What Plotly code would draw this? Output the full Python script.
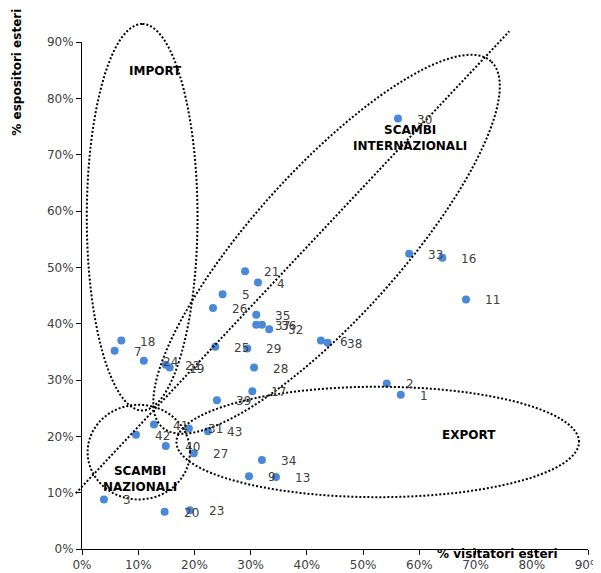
import numpy as np
import plotly.graph_objects as go

# ---- data (percent values) ----
labels = ["1", "2", "3", "4", "5", "6", "7", "9", "11", "13", "16", "17", "18", "19",
          "20", "21", "22", "23", "24", "25", "26", "27", "28", "29", "30", "31", "32",
          "33", "34", "35", "36", "37", "38", "39", "40", "41", "42", "43"]
visitatori_esteri = [56.7, 54.2, 3.9, 31.3, 25.0, 42.5, 5.8, 29.7, 68.3, 34.5, 64.1, 30.3, 7.0, 15.6,
                     14.7, 29.0, 14.9, 19.2, 11.0, 23.7, 23.3, 19.9, 30.6, 29.4, 56.2, 19.0, 33.3,
                     58.2, 32.0, 31.0, 32.0, 31.0, 43.7, 24.0, 14.9, 12.8, 9.6, 22.4]
espositori_esteri = [27.4, 29.4, 8.8, 47.3, 45.2, 37.0, 35.2, 12.9, 44.3, 12.8, 51.7, 28.0, 37.0, 32.2,
                     6.6, 49.3, 32.7, 6.9, 33.4, 35.9, 42.8, 17.0, 32.2, 35.6, 76.4, 21.4, 39.0,
                     52.4, 15.8, 41.6, 39.8, 39.8, 36.6, 26.4, 18.3, 22.1, 20.3, 20.9]

tick_vals = [0, 10, 20, 30, 40, 50, 60, 70, 80, 90]
tick_labels = ["0%", "10%", "20%", "30%", "40%", "50%", "60%", "70%", "80%", "90%"]

# groups: name, centre x, centre y, semi-axis a, semi-axis b, angle (deg), label position
group_names = ["IMPORT", "SCAMBI<br>INTERNAZIONALI", "EXPORT", "SCAMBI<br>NAZIONALI"]
group_cx = [10.7, 43.5, 52.6, 10.1]
group_cy = [58.9, 54.1, 19.0, 17.2]
group_a = [34.3, 43.7, 35.8, 9.1]
group_b = [9.85, 13.1, 9.8, 8.4]
group_ang = [90, 48, 0, 0]
group_lx = [13.1, 58.3, 68.9, 10.3]
group_ly = [84.8, 72.9, 20.3, 12.5]

# dotted diagonal line endpoints (percent units)
diag_x = [-1.1, 76.0]
diag_y = [9.9, 91.9]

RANGE = 90.0
FONT = "DejaVu Sans"

fig = go.Figure()
fig.add_trace(go.Scatter(
    x=visitatori_esteri, y=espositori_esteri, mode="markers",
    marker=dict(size=8, color="#4a88d8", line=dict(width=0)),
    hoverinfo="skip", showlegend=False, cliponaxis=False))

annotations = []
for lab, xv, yv in zip(labels, visitatori_esteri, espositori_esteri):
    annotations.append(dict(x=xv, y=yv, xref="x", yref="y", text=lab, showarrow=False,
                            xanchor="left", yanchor="middle", xshift=17, yshift=-1,
                            font=dict(family=FONT, size=12, color="#404040")))

shapes = []


def to_paper(v):
    return v / RANGE


for cx, cy, a, b, ang in zip(group_cx, group_cy, group_a, group_b, group_ang):
    t = np.linspace(0, 2 * np.pi, 180)
    th = np.deg2rad(ang)
    ex = cx + a * np.cos(t) * np.cos(th) - b * np.sin(t) * np.sin(th)
    ey = cy + a * np.cos(t) * np.sin(th) + b * np.sin(t) * np.cos(th)
    pts = [f"{to_paper(px):.5f},{to_paper(py):.5f}" for px, py in zip(ex, ey)]
    path = "M " + " L ".join(pts) + " Z"
    shapes.append(dict(type="path", path=path, xref="paper", yref="paper",
                       line=dict(color="black", width=2, dash="2px,2px"), layer="above"))

shapes.append(dict(type="line", xref="paper", yref="paper",
                   x0=to_paper(diag_x[0]), y0=to_paper(diag_y[0]),
                   x1=to_paper(diag_x[1]), y1=to_paper(diag_y[1]),
                   line=dict(color="black", width=2, dash="2px,2px"), layer="above"))

for name, lx, ly in zip(group_names, group_lx, group_ly):
    annotations.append(dict(x=lx, y=ly, xref="x", yref="y", text=f"<b>{name}</b>",
                            showarrow=False, xanchor="center", yanchor="middle",
                            font=dict(family=FONT, size=12, color="black")))

# axis titles
annotations.append(dict(x=-0.128, y=0.94, xref="paper", yref="paper",
                        text="<b>% espositori esteri</b>", textangle=-90, showarrow=False,
                        xanchor="center", yanchor="middle",
                        font=dict(family=FONT, size=12, color="black")))
annotations.append(dict(x=0.821, y=-0.009, xref="paper", yref="paper",
                        text="<b>% visitatori esteri</b>", showarrow=False,
                        xanchor="center", yanchor="middle",
                        font=dict(family=FONT, size=12, color="black")))

axis_common = dict(range=[0, RANGE], tickmode="array", tickvals=tick_vals, ticktext=tick_labels,
                   showgrid=False, zeroline=False, showline=True, linecolor="black",
                   linewidth=1, ticks="outside", ticklen=5, tickcolor="black",
                   tickfont=dict(family=FONT, size=12, color="#404040"),
                   ticklabeloverflow="allow",
                   automargin=False, fixedrange=True)

fig.update_layout(
    width=593, height=565,
    margin=dict(l=74, r=13, t=34, b=24),
    paper_bgcolor="white", plot_bgcolor="white",
    xaxis=dict(**axis_common),
    yaxis=dict(**axis_common),
    shapes=shapes, annotations=annotations,
    font=dict(family=FONT),
    showlegend=False,
)

fig.write_html("out.html")
